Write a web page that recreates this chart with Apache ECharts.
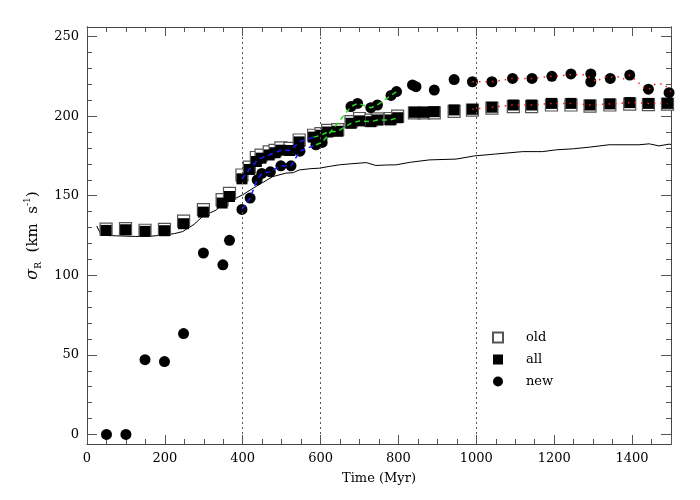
<!DOCTYPE html>
<html>
<head>
<meta charset="utf-8">
<title>sigma_R vs time</title>
<script src="https://cdn.jsdelivr.net/npm/echarts@6/dist/echarts.min.js"></script>
<style>
  html, body { margin: 0; padding: 0; background: #fff; }
  #chart { width: 700px; height: 500px; }
</style>
</head>
<body>
<div id="chart"></div>
<script>
// filled squares ("all")
var allT = [49, 99, 149, 199, 248, 299, 347, 366, 398, 417, 435, 447, 468, 483, 498, 521, 545, 582, 601, 618, 644, 678, 700, 729, 746, 779, 798, 841, 866, 892, 943, 990, 1040, 1095, 1142, 1193, 1243, 1292, 1343, 1394, 1442, 1491];
var allV = [128.2, 128.6, 127.6, 128, 132.4, 139.7, 145.4, 149.5, 160.6, 166.5, 171.5, 173.6, 175.6, 177, 178.6, 178.4, 183.8, 186.8, 188, 190, 190.5, 195.5, 197, 196.5, 197.6, 197.6, 199, 202.4, 202.4, 202.8, 203.9, 204.3, 205.6, 207, 207, 208, 208, 207, 207.7, 208.5, 208, 208];
// open squares ("old")
var oldT = allT;
var oldV = [129, 129.3, 128.3, 128.8, 134, 141.2, 147.5, 151.5, 163, 168, 174, 175.5, 177.5, 178.5, 180, 179.8, 185, 188, 189, 191, 191.5, 196.5, 198.5, 197.5, 198.3, 198.5, 200, 202, 202, 202, 203, 203.8, 205, 206, 206, 207, 207, 206.3, 207, 207.5, 207.2, 207.5];
// filled circles ("new")
var newT = [50, 100, 149, 199, 248, 299, 349, 366, 398, 419, 437, 449, 471, 498, 524, 547, 588, 604, 678, 695, 729, 746, 781, 795, 836, 845, 892, 943, 990, 1040, 1093, 1143, 1194, 1243, 1294, 1294, 1344, 1394, 1442, 1495];
var newV = [0, 0, 47, 45.8, 63.4, 114, 106.6, 122, 141.4, 148.5, 160, 164, 165, 168.8, 168.8, 178, 182, 183.5, 206, 208, 205.3, 207, 213, 215.4, 219.6, 218.5, 216.4, 223, 221.6, 221.6, 223.7, 223.7, 225, 226.5, 226.5, 221.6, 223.7, 225.8, 216.9, 214.7];
// solid curve
var curveT = [25, 36, 50, 75, 100, 125, 150, 175, 200, 225, 246, 275, 297, 332, 349, 366, 400, 434, 477, 511, 530, 545, 575, 597, 622, 648, 675, 717, 742, 770, 794, 830, 879, 948, 995, 1050, 1119, 1170, 1204, 1250, 1290, 1341, 1418, 1444, 1469, 1495, 1500];
var curveV = [131, 125.5, 125, 124.8, 124.6, 124.4, 124.4, 124.8, 125.4, 126.2, 127.5, 132, 137, 141, 145.7, 146.4, 150.6, 155.8, 162, 164.2, 164.5, 166.2, 167, 167.3, 168.4, 169.4, 170, 170.8, 169, 169.3, 169.4, 171, 172.5, 173, 175, 176.2, 177.7, 177.7, 178.8, 179.5, 180.5, 182, 182, 182.6, 181.3, 182.4, 182.2];
// red dotted curve along the circles
var redNewT = [990, 1040, 1093, 1143, 1194, 1243, 1277, 1294, 1310, 1323, 1344, 1363, 1375, 1394, 1414, 1431, 1444, 1460, 1482, 1500];
var redNewV = [221.6, 221.6, 223.7, 223.7, 225, 226, 226, 224, 221.3, 224.4, 224.4, 224.8, 223, 225.8, 221.6, 217.5, 217, 220.4, 220.2, 215.4];

var markTimes = [400, 600, 1000];
var xTickStep = 200;
var yTicks = [0, 50, 100, 150, 200, 250];
var yMinorTicks = [];
for (var i = 0; i <= 250; i += 10) yMinorTicks.push(i);

var FONT = "DejaVu Serif";

function pairs(t, v) {
  return t.map(function (x, i) { return [x, v[i]]; });
}
// piece of a series between two times, for the fit lines
function piece(t, v, from, to) {
  return pairs(t, v).filter(function (p) { return p[0] >= from && p[0] <= to; });
}

function fitLine(data, color, type) {
  return {
    type: "line",
    data: data,
    symbol: "none",
    z: 5,
    silent: true,
    lineStyle: { color: color, width: 1.5, type: type, opacity: 1 }
  };
}

function xAx(pos, withLabel) {
  return {
    type: "value",
    position: pos,
    min: 0,
    max: 1500,
    interval: xTickStep,
    name: withLabel ? "Time (Myr)" : "",
    nameLocation: "middle",
    nameGap: 28,
    nameTextStyle: { fontFamily: FONT, fontSize: 13, color: "#000" },
    axisLine: { show: true, onZero: false, lineStyle: { color: "#444", width: 1 } },
    axisTick: { show: true, inside: true, length: 9, lineStyle: { color: "#555" } },
    minorTick: { show: true, splitNumber: 4, length: 5, lineStyle: { color: "#555" } },
    axisLabel: {
      show: withLabel, fontFamily: FONT, fontSize: 13, color: "#000", margin: 8, showMaxLabel: false,
      formatter: function (v) { return String(v); }
    },
    splitLine: { show: false }
  };
}

function yAx(pos, ticks, len, withLabel) {
  return {
    type: "value",
    position: pos,
    min: -6,
    max: 256,
    name: withLabel ? "{g|σ}{sb|R}{t|  (km  s}{sp|-1}{t|)}" : "",
    nameLocation: "middle",
    nameGap: 40,
    nameTextStyle: {
      fontFamily: FONT, fontSize: 14, color: "#000",
      rich: {
        g: { fontFamily: FONT, fontStyle: "italic", fontSize: 16, lineHeight: 20, verticalAlign: "middle" },
        sb: { fontFamily: FONT, fontSize: 9, lineHeight: 20, verticalAlign: "bottom" },
        t: { fontFamily: FONT, fontSize: 15, lineHeight: 20, verticalAlign: "middle" },
        sp: { fontFamily: FONT, fontSize: 9, lineHeight: 20, verticalAlign: "top" }
      }
    },
    axisLine: { show: true, onZero: false, lineStyle: { color: "#444", width: 1 } },
    axisTick: { show: true, inside: true, length: len, customValues: ticks, lineStyle: { color: "#555" } },
    axisLabel: { show: withLabel, customValues: yTicks, fontFamily: FONT, fontSize: 13, color: "#000", margin: 8 },
    splitLine: { show: false }
  };
}

var myChart = echarts.init(document.getElementById("chart"), null, { renderer: "canvas" });
myChart.setOption({
  animation: false,
  backgroundColor: "#fff",
  grid: { left: 87, right: 29, top: 27, bottom: 56 },
  legend: {
    data: ["old", "all", "new"],
    orient: "vertical",
    left: 487,
    top: 326,
    itemGap: 9,
    itemWidth: 10,
    itemHeight: 10,
    selectedMode: false,
    textStyle: { fontFamily: FONT, fontSize: 13, color: "#000", padding: [0, 0, 0, 18] }
  },
  xAxis: [xAx("bottom", true), xAx("top", false)],
  yAxis: [
    yAx("left", yTicks, 10, true),
    yAx("left", yMinorTicks, 5, false),
    yAx("right", yTicks, 10, false),
    yAx("right", yMinorTicks, 5, false)
  ],
  series: [
    {
      name: "curve",
      type: "line",
      data: pairs(curveT, curveV),
      symbol: "none",
      z: 1,
      silent: true,
      lineStyle: { color: "#000", width: 1 },
      markLine: {
        silent: true,
        symbol: "none",
        label: { show: false },
        lineStyle: { color: "#555", type: [2, 3], width: 1 },
        data: markTimes.map(function (t) { return { xAxis: t }; })
      }
    },
    {
      name: "old",
      type: "scatter",
      data: pairs(oldT, oldV),
      symbol: "rect",
      symbolSize: 12,
      z: 2,
      itemStyle: { color: "#fff", borderColor: "#555", borderWidth: 1.2, opacity: 1 }
    },
    {
      name: "all",
      type: "scatter",
      data: pairs(allT, allV),
      symbol: "rect",
      symbolSize: 11,
      z: 3,
      itemStyle: { color: "#000", opacity: 1 }
    },
    {
      name: "new",
      type: "scatter",
      data: pairs(newT, newV),
      symbol: "circle",
      symbolSize: 11,
      z: 3,
      itemStyle: { color: "#000", opacity: 1 }
    },
    // dashed / dotted pieces along the points
    fitLine(piece(allT, allV, 398, 582), "#1a1aff", [5, 4]),
    fitLine(piece(newT, newV, 398, 588), "#1a1aff", [5, 4]),
    fitLine(piece(allT, allV, 582, 800), "#22dd22", [5, 4]),
    fitLine(piece(newT, newV, 588, 800), "#22dd22", [5, 4]),
    fitLine(piece(allT, allV, 990, 1500), "#ff2020", [1.5, 5]),
    fitLine(pairs(redNewT, redNewV), "#ff2020", [1.5, 5])
  ]
});
</script>
</body>
</html>
